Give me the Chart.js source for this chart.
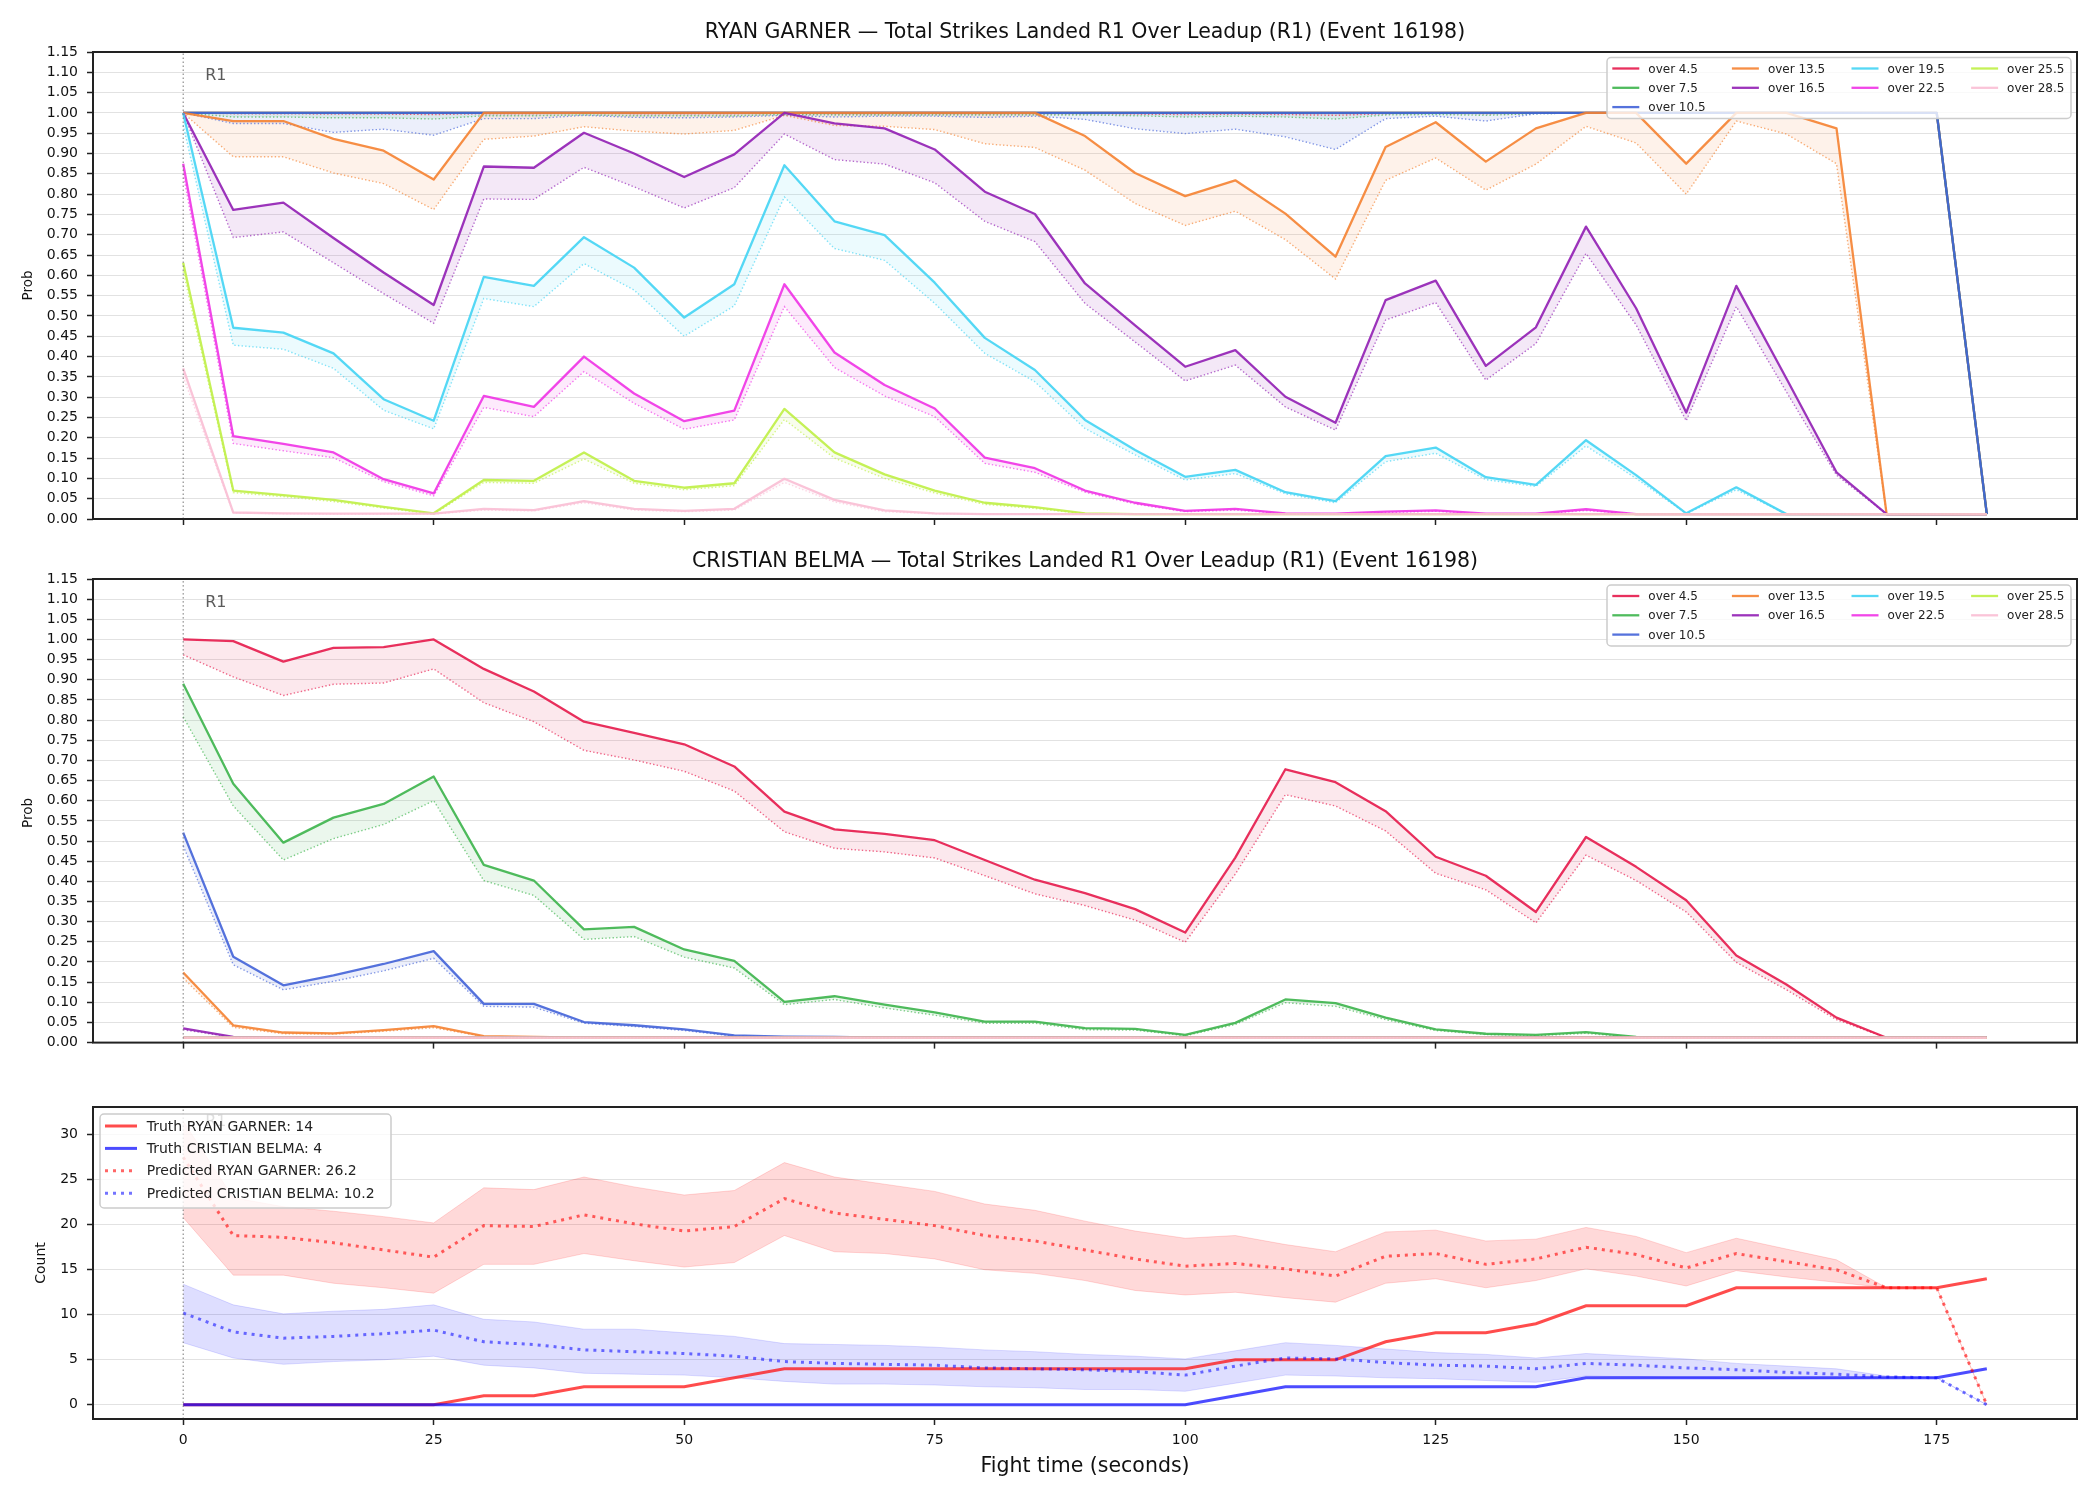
<!DOCTYPE html>
<html>
<head>
<meta charset="utf-8">
<title>Total Strikes Landed R1 Over Leadup</title>
<script src="https://cdn.jsdelivr.net/npm/chart.js@4.4.0/dist/chart.umd.min.js"></script>
<style>
  body { margin: 0; background: #fff; }
  #page { position: relative; width: 2100px; height: 1500px; background: #fff; }
  #page canvas { position: absolute; left: 0; }
</style>
</head>
<body>
<div id="page">
  <canvas id="chart-garner" width="2100" height="545" style="top:0px"></canvas>
  <canvas id="chart-belma" width="2100" height="515" style="top:545px"></canvas>
  <canvas id="chart-count" width="2100" height="440" style="top:1060px"></canvas>
</div>
<script>
// floor value the model never goes under
const F = 0.012;

const fightTime = [0, 5, 10, 15, 20, 25, 30, 35, 40, 45, 50, 55, 60, 65, 70, 75, 80, 85, 90,
  95, 100, 105, 110, 115, 120, 125, 130, 135, 140, 145, 150, 155, 160, 165, 170, 175, 180];
const timeTicks = [0, 25, 50, 75, 100, 125, 150, 175];
const probTicks = [0, 0.05, 0.1, 0.15, 0.2, 0.25, 0.3, 0.35, 0.4, 0.45, 0.5, 0.55, 0.6, 0.65,
  0.7, 0.75, 0.8, 0.85, 0.9, 0.95, 1, 1.05, 1.1, 1.15];
const countTicks = [0, 5, 10, 15, 20, 25, 30];

const lineLabels = ['over 4.5', 'over 7.5', 'over 10.5', 'over 13.5', 'over 16.5',
  'over 19.5', 'over 22.5', 'over 25.5', 'over 28.5'];
const lineColors = ['#e6194b', '#3cb44b', '#4363d8', '#f58231', '#911eb4',
  '#42d4f4', '#f032e6', '#bfef45', '#fabed4'];

//  RYAN GARNER (actual / predicted)
const garner45 = [1, 1, 1, 1, 1, 1, 1, 1, 1, 1, 1, 1, 1, 1, 1, 1, 1, 1, 1, 1, 1, 1, 1, 1, 1, 1, 1, 1, 1, 1, 1, 1, 1, 1, 1, 1, F];
const garner45p = [1, .998, .998, .997, .997, .996, .998, .998, .999, .998, .998, .998, .999, .998, .998, .998, .998, .998, .998, .997, .996, .997, .996, .994, .998, .999, .998, .999, 1, 1, 1, 1, 1, 1, 1, 1, F];
const garner75 = [1, 1, 1, 1, 1, 1, 1, 1, 1, 1, 1, 1, 1, 1, 1, 1, 1, 1, 1, 1, 1, 1, 1, 1, 1, 1, 1, 1, 1, 1, 1, 1, 1, 1, 1, 1, F];
const garner75p = [1, .99, .99, .988, .988, .985, .993, .993, .995, .993, .993, .993, .996, .995, .995, .995, .995, .995, .995, .993, .99, .992, .99, .985, .995, .996, .994, .998, 1, 1, 1, 1, 1, 1, 1, 1, F];
const garner105 = [1, 1, 1, 1, 1, 1, 1, 1, 1, 1, 1, 1, 1, 1, 1, 1, 1, 1, 1, 1, 1, 1, 1, 1, 1, 1, 1, 1, 1, 1, 1, 1, 1, 1, 1, 1, F];
const garner105p = [1, .974, .974, .952, .96, .945, .986, .986, .994, .989, .988, .99, .994, .99, .992, .992, .989, .992, .984, .961, .949, .96, .941, .91, .986, .992, .98, .998, 1, 1, 1, 1, 1, 1, 1, 1, F];
const garner135 = [1, .98, .98, .936, .907, .836, 1, 1, 1, 1, 1, 1, 1, 1, 1, 1, 1, 1, .943, .852, .795, .834, .752, .646, .916, .977, .88, .962, 1, 1, .875, 1, 1, .962, F, F, F];
const garner135p = [1, .892, .892, .852, .826, .762, .935, .943, .966, .955, .948, .957, .994, .969, .967, .959, .924, .915, .859, .777, .723, .758, .688, .591, .834, .889, .81, .874, .967, .926, .8, .98, .948, .875, F, F, F];
const garner165 = [1, .761, .779, .692, .607, .527, .868, .865, .951, .9, .842, .898, 1, .974, .962, .91, .806, .751, .58, .477, .375, .416, .301, .237, .539, .587, .377, .472, .72, .519, .262, .574, .346, .115, F, F, F];
const garner165p = [1, .693, .707, .631, .555, .482, .788, .787, .866, .818, .766, .816, .948, .885, .874, .828, .733, .683, .531, .436, .34, .379, .276, .219, .49, .533, .342, .432, .654, .478, .242, .523, .313, .108, F, F, F];
const garner195 = [1, .471, .459, .408, .295, .242, .596, .574, .694, .619, .496, .578, .871, .733, .699, .582, .446, .367, .244, .17, .104, .121, .066, .044, .155, .176, .103, .084, .194, .108, .014, .078, F, F, F, F, F];
const garner195p = [.97, .428, .418, .371, .268, .222, .543, .523, .629, .564, .45, .525, .793, .666, .637, .531, .408, .338, .223, .158, .096, .112, .062, .04, .141, .162, .097, .08, .18, .1, .013, .072, F, F, F, F, F];
const garner225 = [.875, .204, .185, .164, .098, .063, .303, .276, .4, .309, .241, .267, .578, .41, .33, .272, .151, .125, .07, .04, .02, .025, .014, .013, .018, .021, .013, .013, .024, F, F, F, F, F, F, F, F];
const garner225p = [.85, .186, .168, .151, .092, .057, .275, .252, .363, .285, .221, .244, .523, .373, .303, .252, .137, .115, .066, .037, .018, .022, .013, .012, .016, .019, .012, .012, .021, F, F, F, F, F, F, F, F];
const garner255 = [.631, .07, .059, .047, .03, .014, .096, .094, .164, .094, .077, .088, .271, .164, .11, .07, .04, .029, .014, F, F, F, F, F, F, F, F, F, F, F, F, F, F, F, F, F, F];
const garner255p = [.61, .065, .055, .043, .027, .012, .09, .088, .148, .088, .072, .082, .245, .15, .1, .064, .036, .026, .013, F, F, F, F, F, F, F, F, F, F, F, F, F, F, F, F, F, F];
const garner285 = [.371, .016, .014, .013, .013, .013, .025, .022, .044, .025, .02, .025, .099, .047, .021, .014, F, F, F, F, F, F, F, F, F, F, F, F, F, F, F, F, F, F, F, F, F];
const garner285p = [.35, .015, .013, .012, .012, .012, .022, .02, .04, .022, .018, .022, .09, .042, .018, .013, F, F, F, F, F, F, F, F, F, F, F, F, F, F, F, F, F, F, F, F, F];

//  CRISTIAN BELMA (actual / predicted)
const belma45 = [1, .996, .945, .979, .981, 1, .927, .871, .796, .768, .74, .685, .573, .529, .518, .502, .453, .404, .371, .331, .273, .459, .678, .646, .574, .461, .414, .324, .51, .436, .353, .216, .144, .062, F, F, F];
const belma45p = [.962, .907, .861, .889, .892, .927, .843, .796, .725, .701, .673, .624, .523, .482, .473, .458, .414, .369, .34, .304, .249, .418, .615, .587, .525, .42, .379, .297, .465, .402, .324, .199, .131, .057, F, F, F];
const belma75 = [.89, .642, .496, .558, .592, .66, .441, .402, .281, .287, .231, .203, .101, .115, .094, .075, .052, .052, .036, .034, .019, .049, .107, .098, .062, .033, .022, .019, .026, .014, F, F, F, F, F, F, F];
const belma75p = [.808, .587, .453, .506, .541, .6, .402, .365, .256, .263, .212, .185, .094, .107, .086, .068, .048, .048, .032, .031, .017, .045, .099, .09, .057, .03, .02, .017, .023, .013, F, F, F, F, F, F, F];
const belma105 = [.521, .213, .142, .167, .195, .227, .096, .096, .051, .043, .033, .018, .015, .014, F, F, F, F, F, F, F, F, F, F, F, F, F, F, F, F, F, F, F, F, F, F, F];
const belma105p = [.488, .193, .131, .152, .178, .209, .09, .088, .048, .04, .03, .016, .014, .013, F, F, F, F, F, F, F, F, F, F, F, F, F, F, F, F, F, F, F, F, F, F, F];
const belma135 = [.174, .043, .025, .023, .031, .041, .016, .014, F, F, F, F, F, F, F, F, F, F, F, F, F, F, F, F, F, F, F, F, F, F, F, F, F, F, F, F, F];
const belma135p = [.16, .038, .022, .021, .028, .037, .015, .013, F, F, F, F, F, F, F, F, F, F, F, F, F, F, F, F, F, F, F, F, F, F, F, F, F, F, F, F, F];
const belma165 = [.035, .014, F, F, F, F, F, F, F, F, F, F, F, F, F, F, F, F, F, F, F, F, F, F, F, F, F, F, F, F, F, F, F, F, F, F, F];
const belma165p = [.032, .013, F, F, F, F, F, F, F, F, F, F, F, F, F, F, F, F, F, F, F, F, F, F, F, F, F, F, F, F, F, F, F, F, F, F, F];
// over 19.5 .. over 28.5 sit on the floor the whole round
const belmaHigh = [F, F, F, F, F, F, F, F, F, F, F, F, F, F, F, F, F, F, F, F, F, F, F, F, F, F, F, F, F, F, F, F, F, F, F, F, F];

//  Counts
const truthGarner = [0, 0, 0, 0, 0, 0, 1, 1, 2, 2, 2, 3, 4, 4, 4, 4, 4, 4, 4, 4, 4, 5, 5, 5, 7, 8, 8, 9, 11, 11, 11, 13, 13, 13, 13, 13, 14];
const truthBelma = [0, 0, 0, 0, 0, 0, 0, 0, 0, 0, 0, 0, 0, 0, 0, 0, 0, 0, 0, 0, 0, 1, 2, 2, 2, 2, 2, 2, 3, 3, 3, 3, 3, 3, 3, 3, 4];
const predGarner = [27.5, 18.8, 18.6, 18.0, 17.2, 16.4, 19.9, 19.8, 21.1, 20.1, 19.3, 19.8, 22.9, 21.3, 20.6, 19.9, 18.8, 18.2, 17.2, 16.2, 15.4, 15.7, 15.1, 14.3, 16.5, 16.8, 15.6, 16.2, 17.5, 16.7, 15.2, 16.8, 15.9, 15.0, 13.0, 13.0, 0];
const garnerHi = [31.5, 23.0, 22.0, 21.5, 20.9, 20.2, 24.1, 23.9, 25.3, 24.2, 23.3, 23.8, 26.9, 25.3, 24.5, 23.7, 22.3, 21.6, 20.4, 19.3, 18.5, 18.8, 17.8, 17.0, 19.2, 19.4, 18.2, 18.4, 19.7, 18.7, 16.9, 18.5, 17.3, 16.1, 13.0, 13.0, 0];
const garnerLo = [20.8, 14.4, 14.4, 13.5, 13.0, 12.4, 15.6, 15.6, 16.8, 16.0, 15.3, 15.8, 18.8, 17.0, 16.8, 16.2, 15.0, 14.6, 13.8, 12.7, 12.2, 12.5, 11.9, 11.4, 13.5, 14.0, 13.0, 13.8, 15.1, 14.3, 13.2, 14.9, 14.2, 13.6, 13.0, 13.0, 0];
const predBelma = [10.2, 8.1, 7.4, 7.6, 7.9, 8.3, 7.0, 6.7, 6.1, 5.9, 5.7, 5.4, 4.8, 4.6, 4.5, 4.4, 4.1, 4.0, 3.9, 3.7, 3.3, 4.3, 5.2, 5.1, 4.7, 4.4, 4.3, 4.0, 4.6, 4.4, 4.1, 3.9, 3.6, 3.4, 3.1, 3.0, 0];
const belmaHi = [13.4, 11.1, 10.1, 10.4, 10.6, 11.1, 9.5, 9.2, 8.4, 8.4, 8.0, 7.6, 6.8, 6.7, 6.6, 6.4, 6.1, 5.9, 5.6, 5.4, 5.1, 6.0, 6.9, 6.6, 6.2, 5.8, 5.6, 5.2, 5.7, 5.4, 5.1, 4.6, 4.3, 4.0, 3.2, 3.0, 0];
const belmaLo = [6.9, 5.2, 4.5, 4.8, 5.0, 5.4, 4.4, 4.1, 3.5, 3.4, 3.3, 3.0, 2.6, 2.3, 2.3, 2.2, 2.0, 1.9, 1.7, 1.7, 1.5, 2.4, 3.3, 3.2, 3.0, 2.9, 2.7, 2.5, 3.2, 3.1, 3.0, 2.9, 2.9, 2.9, 3.0, 3.0, 0];

const garnerActual = [garner45, garner75, garner105, garner135, garner165, garner195, garner225, garner255, garner285];
const garnerPred = [garner45p, garner75p, garner105p, garner135p, garner165p, garner195p, garner225p, garner255p, garner285p];
const belmaActual = [belma45, belma75, belma105, belma135, belma165, belmaHigh, belmaHigh, belmaHigh, belmaHigh];
const belmaPred = [belma45p, belma75p, belma105p, belma135p, belma165p, belmaHigh, belmaHigh, belmaHigh, belmaHigh];

const FONT = '"DejaVu Sans", "Liberation Sans", sans-serif';

function rgba(hex, a) {
  const n = parseInt(hex.slice(1), 16);
  return `rgba(${(n >> 16) & 255},${(n >> 8) & 255},${n & 255},${a})`;
}

function pts(values) {
  return values.map((v, i) => ({ x: fightTime[i], y: v }));
}

function roundRect(ctx, x, y, w, h, r) {
  ctx.beginPath();
  ctx.moveTo(x + r, y);
  ctx.lineTo(x + w - r, y);
  ctx.arcTo(x + w, y, x + w, y + r, r);
  ctx.lineTo(x + w, y + h - r);
  ctx.arcTo(x + w, y + h, x + w - r, y + h, r);
  ctx.lineTo(x + r, y + h);
  ctx.arcTo(x, y + h, x, y + h - r, r);
  ctx.lineTo(x, y + r);
  ctx.arcTo(x, y, x + r, y, r);
  ctx.closePath();
}

function drawLegend(ctx, lg, off) {
  const top = lg.y - off;
  roundRect(ctx, lg.x, top, lg.w, lg.h, 4);
  ctx.fillStyle = 'rgba(255,255,255,0.8)';
  ctx.fill();
  ctx.strokeStyle = '#cccccc';
  ctx.lineWidth = 1.5;
  ctx.stroke();
  ctx.font = lg.font;
  ctx.textAlign = 'left';
  ctx.textBaseline = 'middle';
  let i = 0;
  lg.colSizes.forEach((size, col) => {
    for (let row = 0; row < size; row++, i++) {
      const it = lg.items[i];
      const y = top + lg.row0 + row * lg.rowStep;
      const hx = lg.x + lg.handleX + col * lg.colStep;
      ctx.save();
      ctx.strokeStyle = it.color;
      ctx.lineWidth = it.width;
      ctx.setLineDash(it.dash || []);
      ctx.beginPath();
      ctx.moveTo(hx, y);
      ctx.lineTo(hx + lg.handleLen, y);
      ctx.stroke();
      ctx.restore();
      ctx.fillStyle = '#222';
      ctx.fillText(it.label, lg.x + lg.textX + col * lg.colStep, y + 1);
    }
  });
}

const decorPlugin = {
  id: 'decor',
  afterDraw(chart, args, o) {
    const ctx = chart.ctx;
    const a = chart.chartArea;
    ctx.save();
    ctx.strokeStyle = '#222';
    ctx.lineWidth = 2;
    ctx.strokeRect(a.left, a.top, a.right - a.left, a.bottom - a.top);

    // R1 marker text, cap-centred on the value
    ctx.fillStyle = '#5a5a5a';
    ctx.font = '16px ' + FONT;
    ctx.textAlign = 'left';
    ctx.textBaseline = 'alphabetic';
    ctx.fillText('R1', chart.scales.x.getPixelForValue(o.r1[0]), chart.scales.y.getPixelForValue(o.r1[1]) + 6);

    o.texts.forEach(t => {
      ctx.save();
      ctx.translate(t.x, t.y - o.top);
      if (t.rot) ctx.rotate(t.rot);
      ctx.font = t.font;
      ctx.fillStyle = '#111';
      ctx.textAlign = 'center';
      ctx.textBaseline = 'middle';
      ctx.fillText(t.text, 0, 0);
      ctx.restore();
    });

    drawLegend(ctx, o.legend, o.top);
    ctx.restore();
  }
};

function buildOptions(cfg) {
  return {
    responsive: false,
    animation: false,
    devicePixelRatio: 1,
    layout: { padding: { left: 0, right: 23, top: cfg.areaTop, bottom: 0 } },
    elements: { point: { radius: 0 }, line: { tension: 0 } },
    plugins: {
      legend: { display: false },
      tooltip: { enabled: false },
      filler: { drawTime: 'beforeDatasetsDraw' },
      decor: cfg.decor
    },
    scales: {
      x: {
        type: 'linear',
        min: -9,
        max: 189,
        afterBuildTicks: s => { s.ticks = timeTicks.map(v => ({ value: v })); },
        afterFit: s => { s.height = cfg.xHeight; },
        border: { display: false },
        grid: { display: true, drawOnChartArea: false, drawTicks: true, tickLength: 6, tickColor: '#222', tickWidth: 1.5 },
        ticks: { display: cfg.showX, autoSkip: false, maxRotation: 0, padding: 7, color: '#111', font: { family: FONT, size: 14 } }
      },
      y: {
        type: 'linear',
        min: cfg.yMin,
        max: cfg.yMax,
        afterBuildTicks: s => { s.ticks = cfg.yTicks.map(v => ({ value: v })); },
        afterFit: s => { s.width = 93; },
        border: { display: false },
        grid: { color: '#e2e2e2', lineWidth: 1, drawTicks: true, tickLength: 6, tickColor: '#222', tickWidth: 1.5 },
        ticks: { autoSkip: false, padding: 9, color: '#111', font: { family: FONT, size: 14 }, callback: cfg.yFormat }
      }
    }
  };
}

function probDatasets(actualList, predList) {
  const ds = [];
  actualList.forEach((act, k) => {
    const c = lineColors[k];
    ds.push({ data: pts(act), borderColor: rgba(c, 0.9), borderWidth: 2.3, borderJoinStyle: 'round',
      fill: '+1', backgroundColor: rgba(c, 0.1) });
    ds.push({ data: pts(predList[k]), borderColor: rgba(c, 0.65), borderWidth: 1.4, borderDash: [1.4, 2.2],
      fill: false });
  });
  ds.push({ data: [{ x: 0, y: 0 }, { x: 0, y: 1.15 }], borderColor: '#777', borderWidth: 1,
    borderDash: [1.5, 2.5], fill: false });
  ds.forEach((d, i) => { d.order = ds.length - i; d.pointRadius = 0; });
  return ds;
}

function probLegend(y) {
  return {
    x: 1607, y: y, w: 464, h: 61, font: '12px ' + FONT,
    colSizes: [3, 2, 2, 2], row0: 11, rowStep: 19.3, colStep: 119.6,
    handleX: 5.3, handleLen: 27, textX: 41.3,
    items: lineLabels.map((l, k) => ({ label: l, color: rgba(lineColors[k], 0.9), width: 2.3 }))
  };
}

const fmtProb = v => v.toFixed(2);

// RYAN GARNER panel
new Chart(document.getElementById('chart-garner'), {
  type: 'line',
  data: { datasets: probDatasets(garnerActual, garnerPred) },
  options: buildOptions({
    areaTop: 52, xHeight: 26, showX: false, yMin: 0, yMax: 1.15, yTicks: probTicks, yFormat: fmtProb,
    decor: {
      top: 0, r1: [2.2, 1.097],
      texts: [
        { text: 'RYAN GARNER — Total Strikes Landed R1 Over Leadup (R1) (Event 16198)', x: 1085, y: 33, font: '20.5px ' + FONT },
        { text: 'Prob', x: 28, y: 285.5, rot: -Math.PI / 2, font: '13.5px ' + FONT }
      ],
      legend: probLegend(57.5)
    }
  }),
  plugins: [decorPlugin]
});

// CRISTIAN BELMA panel
new Chart(document.getElementById('chart-belma'), {
  type: 'line',
  data: { datasets: probDatasets(belmaActual, belmaPred) },
  options: buildOptions({
    areaTop: 34, xHeight: 13.3, showX: false, yMin: 0, yMax: 1.15, yTicks: probTicks, yFormat: fmtProb,
    decor: {
      top: 545, r1: [2.2, 1.096],
      texts: [
        { text: 'CRISTIAN BELMA — Total Strikes Landed R1 Over Leadup (R1) (Event 16198)', x: 1085, y: 561.3, font: '20.5px ' + FONT },
        { text: 'Prob', x: 28, y: 813, rot: -Math.PI / 2, font: '13.5px ' + FONT }
      ],
      legend: probLegend(585)
    }
  }),
  plugins: [decorPlugin]
});

// Counts panel
const countSets = [
  { data: pts(garnerHi), borderColor: 'rgba(255,0,0,0.15)', borderWidth: 1, fill: '+1', backgroundColor: 'rgba(255,0,0,0.15)' },
  { data: pts(garnerLo), borderColor: 'rgba(255,0,0,0.15)', borderWidth: 1, fill: false },
  { data: pts(belmaHi), borderColor: 'rgba(0,0,255,0.13)', borderWidth: 1, fill: '+1', backgroundColor: 'rgba(0,0,255,0.13)' },
  { data: pts(belmaLo), borderColor: 'rgba(0,0,255,0.13)', borderWidth: 1, fill: false },
  { data: pts(truthGarner), borderColor: 'rgba(255,0,0,0.7)', borderWidth: 3, fill: false },
  { data: pts(truthBelma), borderColor: 'rgba(0,0,255,0.7)', borderWidth: 3, fill: false },
  { data: pts(predGarner), borderColor: 'rgba(255,0,0,0.6)', borderWidth: 3, borderDash: [3, 5], fill: false },
  { data: pts(predBelma), borderColor: 'rgba(0,0,255,0.55)', borderWidth: 3, borderDash: [3, 5], fill: false },
  { data: [{ x: 0, y: -1.575 }, { x: 0, y: 33.075 }], borderColor: '#777', borderWidth: 1, borderDash: [1.5, 2.5], fill: false }
];
countSets.forEach((d, i) => { d.order = countSets.length - i; d.pointRadius = 0; });

new Chart(document.getElementById('chart-count'), {
  type: 'line',
  data: { datasets: countSets },
  options: buildOptions({
    areaTop: 47, xHeight: 81, showX: true, yMin: -1.575, yMax: 33.075, yTicks: countTicks, yFormat: v => String(v),
    decor: {
      top: 1060, r1: [2.2, 31.6],
      texts: [
        { text: 'Fight time (seconds)', x: 1085, y: 1467, font: '20.5px ' + FONT },
        { text: 'Count', x: 41.7, y: 1263, rot: -Math.PI / 2, font: '14px ' + FONT }
      ],
      legend: {
        x: 100, y: 1114, w: 291, h: 94, font: '14px ' + FONT,
        colSizes: [4], row0: 12, rowStep: 22.4, colStep: 0,
        handleX: 5, handleLen: 32, textX: 46.7,
        items: [
          { label: 'Truth RYAN GARNER: 14', color: 'rgba(255,0,0,0.7)', width: 3 },
          { label: 'Truth CRISTIAN BELMA: 4', color: 'rgba(0,0,255,0.7)', width: 3 },
          { label: 'Predicted RYAN GARNER: 26.2', color: 'rgba(255,0,0,0.6)', width: 3, dash: [3, 5] },
          { label: 'Predicted CRISTIAN BELMA: 10.2', color: 'rgba(0,0,255,0.55)', width: 3, dash: [3, 5] }
        ]
      }
    }
  }),
  plugins: [decorPlugin]
});
</script>
</body>
</html>
